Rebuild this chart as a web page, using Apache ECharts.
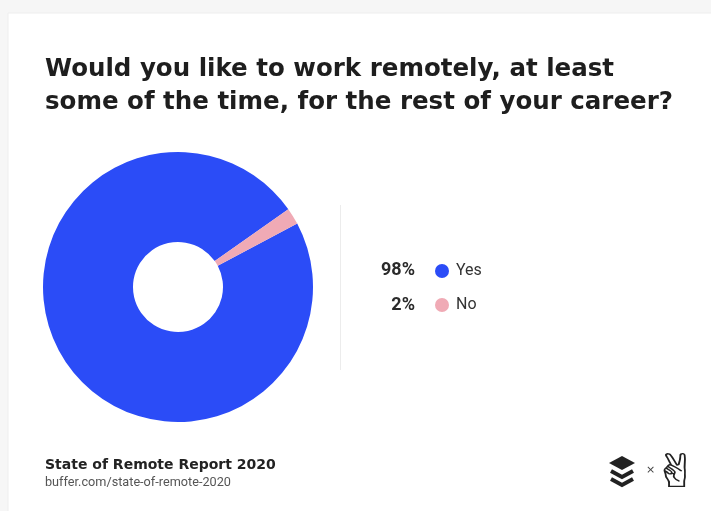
<!DOCTYPE html>
<html>
<head>
<meta charset="utf-8">
<script src="https://cdn.jsdelivr.net/npm/echarts@6/dist/echarts.min.js"></script>
<style>
html,body{margin:0;padding:0;background:#f6f6f6;}
#chart{width:711px;height:511px;}
</style>
</head>
<body>
<div id="chart"></div>
<script>
var categories = ['Yes', 'No'];
var values = [98, 2];
var colors = ['#2b4cf7', '#f0aab5'];
var titleLines = ['Would you like to work remotely, at least', 'some of the time, for the rest of your career?'];
var sourceTitle = 'State of Remote Report 2020';
var sourceUrl = 'buffer.com/state-of-remote-2020';

var chart = echarts.init(document.getElementById('chart'));
var total = values.reduce(function(a,b){return a+b;},0);

var graphics = [
  {type:'rect', shape:{x:8,y:13,width:720,height:520}, style:{fill:'#ffffff', stroke:'#eeeeee', lineWidth:1}, z:-10},
  {type:'text', x:45, y:53, style:{text:titleLines.join('\n'), font:'bold 24.5px "DejaVu Sans"', fill:'#1e1e1e', lineHeight:33}},
  {type:'line', shape:{x1:340.5,y1:205,x2:340.5,y2:370}, style:{stroke:'#ececec', lineWidth:1}},
  {type:'text', x:45, y:458, style:{text:sourceTitle, font:'bold 14px "DejaVu Sans"', fill:'#222'}},
  {type:'text', x:45, y:476, style:{text:sourceUrl, font:'12.7px Roboto', fill:'#555'}},
  // buffer logo
  {type:'polygon', shape:{points:[[622,456],[635,463],[622,470],[609,463]]}, style:{fill:'#222'}},
  {type:'polyline', shape:{points:[[611,471],[622,477],[633,471]]}, style:{stroke:'#222', lineWidth:4, fill:null}},
  {type:'polyline', shape:{points:[[611,479],[622,485],[633,479]]}, style:{stroke:'#222', lineWidth:4, fill:null}},
  {type:'text', x:646, y:465, style:{text:'×', font:'11px "DejaVu Sans"', fill:'#444'}},
  {type:'text', x:650, y:452, scaleX:1.6, scaleY:1.15, style:{text:'✌', font:'40px "DejaVu Sans"', fill:'#222'}}
];
// percentage labels beside legend
categories.forEach(function(c,i){
  graphics.push({type:'text', x:415, y:270+i*35, style:{text:Math.round(values[i]/total*100)+'%', font:'bold 18px Roboto', fill:'#2a2a2a', align:'right', verticalAlign:'middle'}});
});

chart.setOption({
  backgroundColor:'transparent',
  animation:false,
  color:colors,
  graphic:graphics,
  legend:{
    orient:'vertical', left:430, top:258, itemGap:18,
    icon:'circle', itemWidth:14, itemHeight:14,
    textStyle:{fontSize:16, lineHeight:16, color:'#333', fontFamily:'Roboto', padding:[0,0,0,2]},
    data:categories
  },
  series:[{
    type:'pie',
    center:[178,287],
    radius:[45,135],
    startAngle:28,
    clockwise:true,
    label:{show:false},
    labelLine:{show:false},
    silent:true,
    data:categories.map(function(c,i){return {name:c, value:values[i]};})
  }]
});
</script>
</body>
</html>
